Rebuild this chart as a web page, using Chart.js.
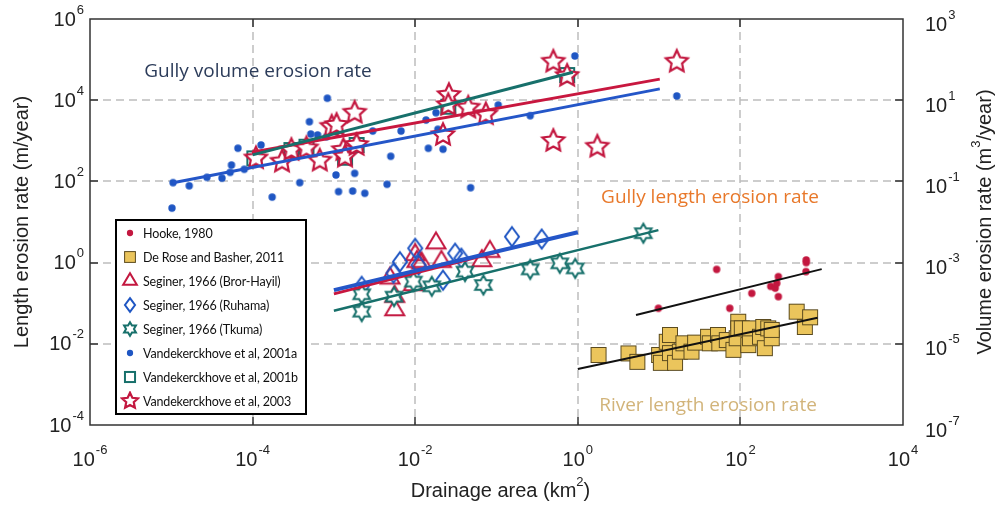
<!DOCTYPE html>
<html>
<head>
<meta charset="utf-8">
<script src="https://cdn.jsdelivr.net/npm/chart.js@4.4.0/dist/chart.umd.min.js"></script>
<style>
    html, body { margin: 0; padding: 0; background: #fff; }
    #wrap { position: relative; width: 1006px; height: 507px; }
    .note { position: absolute; font-family: "Open Sans", sans-serif; font-size: 19px; white-space: nowrap; transform: translate(-50%, -50%); }
    #legend { position: absolute; left: 115px; top: 219px; width: 188px; height: 192px; border: 2px solid #000; background: #fff;
              font-family: Lato, sans-serif; font-size: 12.5px; letter-spacing: -0.15px; color: #111; white-space: nowrap; overflow: hidden; }
    .row { height: 24px; display: flex; align-items: center; }
    .row canvas { width: 20px; height: 20px; margin-left: 3px; margin-right: 3px; flex: none; }
</style>
</head>
<body>
<div id="wrap">
    <canvas id="chart"></canvas>
    <div class="note" style="left:258px; top:70px; color:#2c3c5a;">Gully volume erosion rate</div>
    <div class="note" style="left:710px; top:196px; color:#e8782a;">Gully length erosion rate</div>
    <div class="note" style="left:708px; top:404px; color:#d2b47a;">River length erosion rate</div>
    <div id="legend"></div>
</div>
<script>
    // axis ticks (decades every 2)
    const xTicks = [1e-6, 1e-4, 1e-2, 1, 1e2, 1e4];
    const yTicks = [1e-4, 1e-2, 1, 1e2, 1e4, 1e6];
    const y2Ticks = [1e-7, 1e-5, 1e-3, 1e-1, 1e1, 1e3];

    const legendLabels = [
        "Hooke, 1980",
        "De Rose and Basher, 2011",
        "Seginer, 1966 (Bror-Hayil)",
        "Seginer, 1966 (Ruhama)",
        "Seginer, 1966 (Tkuma)",
        "Vandekerckhove et al, 2001a",
        "Vandekerckhove et al, 2001b",
        "Vandekerckhove et al, 2003"
    ];

    // Hooke, 1980
    const hookeArea = [9.8, 51, 74, 138, 236, 268, 280, 293, 293, 645, 645, 640];
    const hookeRate = [0.075, 0.68, 0.075, 0.175, 0.26, 0.235, 0.31, 0.45, 0.145, 1.16, 1.0, 0.6];

    // De Rose and Basher, 2011
    const deRoseArea = [1.8, 4.2, 5.4, 10, 10.5, 12.4, 13.6, 13.6, 15.7, 18, 19.9, 25, 27.7, 40, 42, 53, 55, 68,
        82, 90, 94, 94, 104, 125, 131, 131, 174, 191, 200, 220, 243, 243, 492, 620, 720];
    const deRoseRate = [0.0053, 0.0058, 0.0036, 0.0053, 0.0034, 0.0112, 0.0165, 0.0059, 0.0034, 0.0064, 0.0103,
        0.0064, 0.0107, 0.0149, 0.0103, 0.0165, 0.0103, 0.0124, 0.0071, 0.0137, 0.035, 0.024, 0.024, 0.0093,
        0.0137, 0.024, 0.0149, 0.026, 0.0078, 0.024, 0.0137, 0.022, 0.062, 0.026, 0.045];

    // Seginer, 1966
    const brorArea = [4.9e-3, 5.6e-3, 5.6e-3, 1.0e-2, 1.05e-2, 9.5e-3, 1.2e-2, 1.8e-2, 2.1e-2, 6.6e-2, 8.3e-2];
    const brorRate = [0.41, 0.145, 0.068, 1.55, 1.05, 0.28, 0.96, 3.0, 1.05, 1.1, 1.86];
    const ruhamaArea = [2.2e-3, 5.4e-3, 6.5e-3, 1.0e-2, 1.1e-2, 2.2e-2, 3.1e-2, 3.7e-2, 0.155, 0.36];
    const ruhamaRate = [0.26, 0.55, 1.05, 2.25, 0.87, 0.37, 1.7, 1.28, 4.35, 3.8];
    const tkumaArea = [2.2e-3, 2.2e-3, 5.5e-3, 9.5e-3, 1.6e-2, 4.1e-2, 6.9e-2, 0.26, 0.6, 0.93, 6.4];
    const tkumaRate = [0.166, 0.062, 0.145, 0.34, 0.26, 0.6, 0.28, 0.68, 0.96, 0.72, 5.3];

    // Vandekerckhove et al
    const v01aArea = [1.05e-5, 1.66e-5, 2.74e-5, 4.2e-5, 5.3e-5, 5.5e-5, 6.6e-5, 7.9e-5, 1.05e-4, 1.27e-4, 3.8e-4,
        5.0e-4, 5.2e-4, 6.3e-4, 8.3e-4, 8.1e-4, 1.06e-3, 1.14e-3, 1.7e-3, 1.8e-3, 2.4e-3, 3.0e-3, 4.5e-3, 5.0e-3,
        6.7e-3, 1.36e-2, 1.45e-2, 1.8e-2, 1.9e-2, 2.2e-2, 4.8e-2, 0.105, 0.26, 0.92, 16.5, 1.02e-5, 1.74e-4];
    const v01aRate = [93, 78, 126, 120, 167, 253, 656, 199, 264, 790, 93, 2950, 1470, 1390, 11200, 1260, 144, 56,
        58, 158, 51, 1740, 85, 415, 1740, 3250, 655, 4920, 1920, 620, 70, 7600, 4150, 123000, 12700, 22, 41];
    const v01bArea = [1.05e-4, 3.0e-4, 4.6e-4, 1.37e-3, 1.9e-3, 2.55e-2, 0.74];
    const v01bRate = [370, 593, 716, 383, 790, 6900, 41700];
    const v03Area = [1.1e-4, 2.3e-4, 3.0e-4, 4.6e-4, 6.7e-4, 9.4e-4, 1.08e-3, 1.31e-3, 1.37e-3, 1.8e-3, 1.9e-3,
        2.6e-2, 2.55e-2, 2.2e-2, 4.5e-2, 7.4e-2, 0.5, 0.74, 0.5, 16.5, 1.74];
    const v03Rate = [370, 306, 593, 655, 324, 2220, 2450, 593, 406, 4920, 790, 13400, 7600, 1390, 6550, 4500,
        88700, 39800, 990, 88700, 716];

    // fitted trend lines (end points)
    const fitV01aX = [1.05e-5, 10.2], fitV01aY = [93, 19000];
    const fitV03X = [9.8e-5, 10.2], fitV03Y = [525, 33000];
    const fitV01bX = [1.0e-4, 0.87], fitV01bY = [450, 49000];
    const fitRuhamaX = [1.0e-3, 1.0], fitRuhamaY = [0.21, 5.6];
    const fitBrorX = [1.0e-3, 0.1], fitBrorY = [0.17, 1.8];
    const fitTkumaX = [1.0e-3, 9.8], fitTkumaY = [0.065, 6.3];
    const fitHookeX = [5.2, 1000], fitHookeY = [0.051, 0.69];
    const fitDeRoseX = [1.0, 890], fitDeRoseY = [0.0024, 0.044];

    const RED = "#c3173f";
    const BLUE = "#1f56c3";
    const TEAL = "#17706b";
    const GOLD = "#ebc55c";

    function pts(xs, ys) {
        return xs.map((x, i) => ({ x, y: ys[i] }));
    }

    function starPath(ctx, cx, cy, n, rOut, rIn) {
        ctx.beginPath();
        for (let i = 0; i < 2 * n; i++) {
            const r = i % 2 ? rIn : rOut;
            const a = -Math.PI / 2 + (i * Math.PI) / n;
            ctx.lineTo(cx + r * Math.cos(a), cy + r * Math.sin(a));
        }
        ctx.closePath();
    }

    function paintMarker(ctx, kind, c, k) {
        ctx.lineJoin = "miter";
        if (kind === "dotRed" || kind === "dotBlue") {
            ctx.fillStyle = kind === "dotRed" ? RED : BLUE;
            ctx.beginPath();
            ctx.arc(c, c, 3.7 * k, 0, Math.PI * 2);
            ctx.fill();
        } else if (kind === "gold") {
            const h = 7.5 * k;
            ctx.fillStyle = GOLD;
            ctx.strokeStyle = "#5b4b1f";
            ctx.lineWidth = 1;
            ctx.fillRect(c - h, c - h, 2 * h, 2 * h);
            ctx.strokeRect(c - h, c - h, 2 * h, 2 * h);
        } else if (kind === "tri") {
            const w = 9.5 * k, h = 16 * k;
            ctx.strokeStyle = RED;
            ctx.lineWidth = 2;
            ctx.beginPath();
            ctx.moveTo(c, c - (2 * h) / 3);
            ctx.lineTo(c + w, c + h / 3);
            ctx.lineTo(c - w, c + h / 3);
            ctx.closePath();
            ctx.stroke();
        } else if (kind === "diamond") {
            const w = 7 * k, h = 9.5 * k;
            ctx.strokeStyle = BLUE;
            ctx.lineWidth = 2;
            ctx.beginPath();
            ctx.moveTo(c, c - h);
            ctx.lineTo(c + w, c);
            ctx.lineTo(c, c + h);
            ctx.lineTo(c - w, c);
            ctx.closePath();
            ctx.stroke();
        } else if (kind === "hex") {
            ctx.strokeStyle = TEAL;
            ctx.fillStyle = "#fff";
            ctx.lineWidth = 2;
            starPath(ctx, c, c, 6, 9.5 * k, 9.5 * k * 0.577);
            ctx.fill();
            ctx.stroke();
        } else if (kind === "sqTeal") {
            const h = 7 * k;
            ctx.strokeStyle = TEAL;
            ctx.lineWidth = 2;
            ctx.strokeRect(c - h, c - h, 2 * h, 2 * h);
        } else if (kind === "star5") {
            ctx.strokeStyle = RED;
            ctx.fillStyle = "#fff";
            ctx.lineWidth = 2.2;
            starPath(ctx, c, c, 5, 11.5 * k, 11.5 * k * 0.48);
            ctx.fill();
            ctx.stroke();
        }
    }

    function markerImage(kind, k) {
        const cv = document.createElement("canvas");
        cv.width = 30;
        cv.height = 30;
        paintMarker(cv.getContext("2d"), kind, 15, k);
        return cv;
    }

    const kinds = ["dotRed", "gold", "tri", "diamond", "hex", "dotBlue", "sqTeal", "star5"];

    // html legend
    const legend = document.getElementById("legend");
    kinds.forEach((kind, i) => {
        const row = document.createElement("div");
        row.className = "row";
        const icon = document.createElement("canvas");
        icon.width = 20;
        icon.height = 20;
        paintMarker(icon.getContext("2d"), kind, 10, kind.startsWith("dot") ? 0.85 : 0.72);
        const label = document.createElement("span");
        label.textContent = legendLabels[i];
        row.appendChild(icon);
        row.appendChild(label);
        legend.appendChild(row);
    });

    function fitLine(xs, ys, color, width) {
        return { data: pts(xs, ys), showLine: true, borderColor: color, borderWidth: width, pointRadius: 0, fill: false };
    }

    function scatter(xs, ys, kind) {
        const img = markerImage(kind, 1);
        return { data: pts(xs, ys), pointStyle: img, pointRadius: 8, showLine: false };
    }

    const FONT = '"Liberation Sans", Arial, sans-serif';

    function drawPow(ctx, exp, x, y, align) {
        ctx.font = "20px " + FONT;
        const wBase = ctx.measureText("10").width;
        ctx.font = "13px " + FONT;
        const wExp = ctx.measureText(exp).width;
        const total = wBase + wExp + 1;
        let x0 = x;
        if (align === "center") x0 = x - total / 2;
        if (align === "right") x0 = x - total;
        ctx.textAlign = "left";
        ctx.textBaseline = "middle";
        ctx.font = "20px " + FONT;
        ctx.fillText("10", x0, y);
        ctx.font = "13px " + FONT;
        ctx.fillText(exp, x0 + wBase + 1, y - 10);
    }

    function drawTitle(ctx, parts, cx, cy) {
        // parts: [text, isSuperscript]
        let total = 0;
        parts.forEach(([t, sup]) => {
            ctx.font = (sup ? "13px " : "20px ") + FONT;
            total += ctx.measureText(t).width;
        });
        let x = cx - total / 2;
        ctx.textAlign = "left";
        ctx.textBaseline = "middle";
        parts.forEach(([t, sup]) => {
            ctx.font = (sup ? "13px " : "20px ") + FONT;
            ctx.fillText(t, x, sup ? cy - 9 : cy);
            x += ctx.measureText(t).width;
        });
    }

    const decoPlugin = {
        id: "deco",
        beforeDatasetsDraw(chart) {
            const { ctx, chartArea: a, scales } = chart;
            ctx.save();
            ctx.strokeStyle = "#bdbdbd";
            ctx.lineWidth = 1.5;
            ctx.setLineDash([8, 5]);
            xTicks.slice(1, -1).forEach((v) => {
                const px = Math.round(scales.x.getPixelForValue(v));
                ctx.beginPath();
                ctx.moveTo(px, a.top);
                ctx.lineTo(px, a.bottom);
                ctx.stroke();
            });
            yTicks.slice(1, -1).forEach((v) => {
                const py = Math.round(scales.y.getPixelForValue(v));
                ctx.beginPath();
                ctx.moveTo(a.left, py);
                ctx.lineTo(a.right, py);
                ctx.stroke();
            });
            ctx.restore();
        },
        afterDraw(chart) {
            const { ctx, chartArea: a, scales } = chart;
            ctx.save();
            ctx.strokeStyle = "#333";
            ctx.lineWidth = 1.5;
            ctx.strokeRect(a.left, a.top, a.right - a.left, a.bottom - a.top);
            ctx.beginPath();
            xTicks.slice(1, -1).forEach((v) => {
                const px = Math.round(scales.x.getPixelForValue(v));
                ctx.moveTo(px, a.top);
                ctx.lineTo(px, a.top + 8);
                ctx.moveTo(px, a.bottom);
                ctx.lineTo(px, a.bottom - 8);
            });
            yTicks.slice(1, -1).forEach((v) => {
                const py = Math.round(scales.y.getPixelForValue(v));
                ctx.moveTo(a.left, py);
                ctx.lineTo(a.left + 8, py);
            });
            y2Ticks.slice(1, -1).forEach((v) => {
                const py = Math.round(scales.y2.getPixelForValue(v));
                ctx.moveTo(a.right, py);
                ctx.lineTo(a.right - 8, py);
            });
            ctx.stroke();

            ctx.fillStyle = "#222";
            xTicks.forEach((v) => {
                drawPow(ctx, String(Math.round(Math.log10(v))), scales.x.getPixelForValue(v), a.bottom + 35, "center");
            });
            yTicks.forEach((v) => {
                drawPow(ctx, String(Math.round(Math.log10(v))), a.left - 6, scales.y.getPixelForValue(v) + 1, "right");
            });
            y2Ticks.forEach((v) => {
                drawPow(ctx, String(Math.round(Math.log10(v))), a.right + 22, scales.y2.getPixelForValue(v) + 6, "left");
            });

            drawTitle(ctx, [["Drainage area (km", false], ["2", true], [")", false]], (a.left + a.right) / 2 + 4, a.bottom + 66);

            ctx.save();
            ctx.translate(22, (a.top + a.bottom) / 2);
            ctx.rotate(-Math.PI / 2);
            drawTitle(ctx, [["Length erosion rate (m/year)", false]], 0, 0);
            ctx.restore();

            ctx.save();
            ctx.translate(985, (a.top + a.bottom) / 2);
            ctx.rotate(-Math.PI / 2);
            drawTitle(ctx, [["Volume erosion rate (m", false], ["3", true], ["/year)", false]], 0, 0);
            ctx.restore();
            ctx.restore();
        }
    };

    new Chart(document.getElementById("chart"), {
        type: "scatter",
        data: {
            datasets: [
                fitLine(fitV01bX, fitV01bY, TEAL, 3),
                fitLine(fitV03X, fitV03Y, "#c8173f", 3),
                fitLine(fitV01aX, fitV01aY, "#2456c8", 3),
                fitLine(fitRuhamaX, fitRuhamaY, "#2456c8", 4),
                fitLine(fitBrorX, fitBrorY, "#c8173f", 3),
                fitLine(fitTkumaX, fitTkumaY, TEAL, 2.5),
                fitLine(fitHookeX, fitHookeY, "#111", 2),
                fitLine(fitDeRoseX, fitDeRoseY, "#111", 2),
                scatter(v03Area, v03Rate, "star5"),
                scatter(v01bArea, v01bRate, "sqTeal"),
                scatter(v01aArea, v01aRate, "dotBlue"),
                scatter(tkumaArea, tkumaRate, "hex"),
                scatter(ruhamaArea, ruhamaRate, "diamond"),
                scatter(brorArea, brorRate, "tri"),
                scatter(hookeArea, hookeRate, "dotRed"),
                scatter(deRoseArea, deRoseRate, "gold")
            ]
        },
        options: {
            responsive: true,
            maintainAspectRatio: false,
            animation: false,
            layout: { padding: { left: 90, right: 103, top: 19, bottom: 82 } },
            plugins: { legend: { display: false }, tooltip: { enabled: false } },
            scales: {
                x: { type: "logarithmic", min: 1e-6, max: 1e4, display: false },
                y: { type: "logarithmic", min: 1e-4, max: 1e6, display: false },
                y2: { type: "logarithmic", position: "right", min: 1e-7, max: 1e3, display: false }
            }
        },
        plugins: [decoPlugin]
    });
</script>
</body>
</html>
